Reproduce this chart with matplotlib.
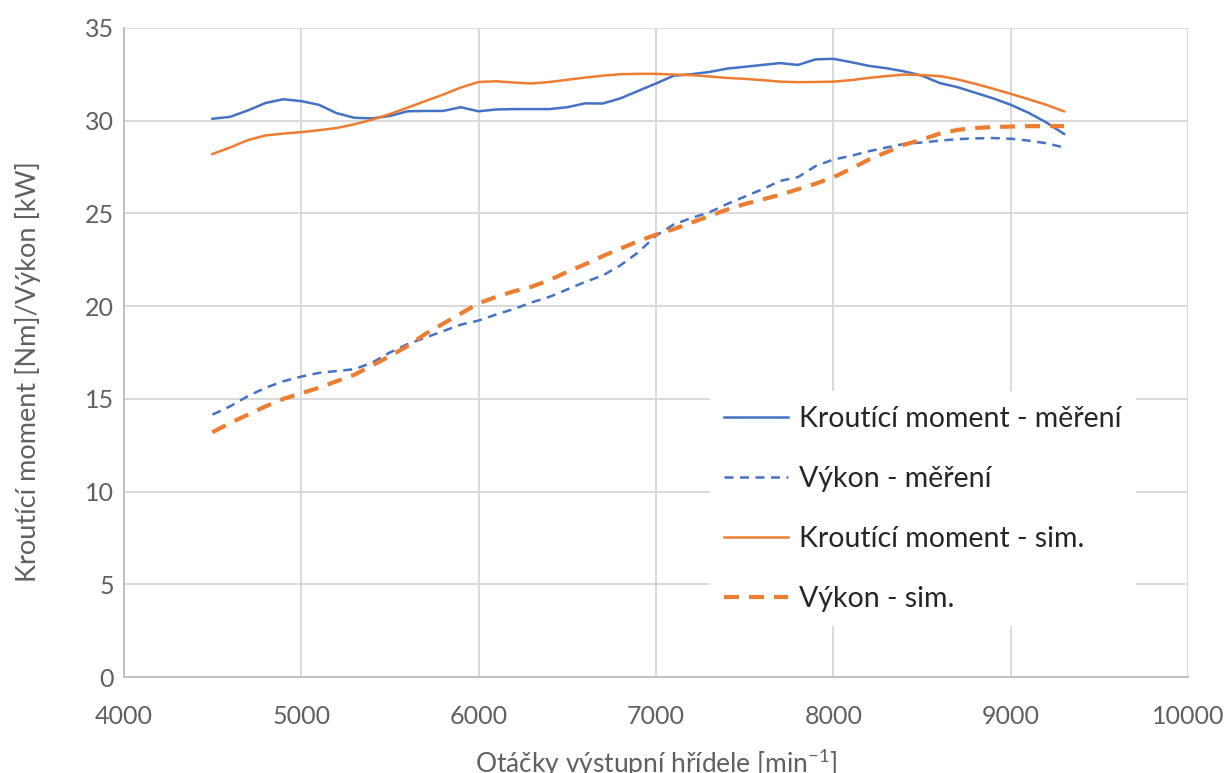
import numpy as np
import matplotlib
matplotlib.use('Agg')
import matplotlib.pyplot as plt

plt.rcParams['font.family'] = ['Lato', 'DejaVu Sans']
plt.rcParams['mathtext.default'] = 'regular'

# otacky [min-1]
rpm = list(range(4500, 9301, 100))

moment_mereni = [30.1, 30.2, 30.55, 30.95, 31.15, 31.05, 30.85, 30.4, 30.15, 30.12,
                 30.25, 30.5, 30.52, 30.52, 30.72, 30.5, 30.6, 30.62, 30.62, 30.62,
                 30.72, 30.93, 30.92, 31.2, 31.6, 32.0, 32.42, 32.5, 32.62, 32.8,
                 32.9, 33.0, 33.1, 33.0, 33.3, 33.33, 33.15, 32.95, 32.82, 32.65,
                 32.42, 32.02, 31.8, 31.5, 31.2, 30.85, 30.42, 29.9, 29.28]

vykon_mereni = [14.15, 14.6, 15.15, 15.6, 15.95, 16.2, 16.4, 16.5, 16.6, 16.95,
                17.5, 17.95, 18.3, 18.65, 19.0, 19.22, 19.55, 19.85, 20.2, 20.5,
                20.9, 21.3, 21.65, 22.2, 22.9, 23.8, 24.4, 24.75, 25.05, 25.5,
                25.9, 26.3, 26.75, 26.95, 27.55, 27.9, 28.1, 28.35, 28.55, 28.75,
                28.82, 28.92, 29.0, 29.04, 29.06, 29.02, 28.92, 28.78, 28.55]

moment_sim = [28.2, 28.55, 28.95, 29.2, 29.3, 29.38, 29.48, 29.6, 29.8, 30.05,
              30.35, 30.7, 31.05, 31.4, 31.78, 32.08, 32.12, 32.05, 32.0, 32.08,
              32.2, 32.32, 32.42, 32.5, 32.52, 32.52, 32.48, 32.45, 32.38, 32.3,
              32.25, 32.18, 32.1, 32.07, 32.08, 32.1, 32.18, 32.3, 32.4, 32.48,
              32.45, 32.4, 32.22, 31.98, 31.72, 31.44, 31.15, 30.85, 30.5]

vykon_sim = [13.2, 13.7, 14.15, 14.6, 15.0, 15.3, 15.6, 15.95, 16.3, 16.8,
             17.3, 17.85, 18.5, 19.05, 19.6, 20.15, 20.5, 20.8, 21.05, 21.4,
             21.85, 22.25, 22.7, 23.1, 23.5, 23.85, 24.15, 24.5, 24.85, 25.2,
             25.5, 25.75, 26.0, 26.3, 26.6, 26.95, 27.4, 27.9, 28.3, 28.7,
             28.98, 29.3, 29.5, 29.6, 29.65, 29.68, 29.7, 29.7, 29.7]

blue = '#4472C4'
orange = '#ED7D31'
gray_text = '#606060'

fig = plt.figure(figsize=(12.25, 7.73), dpi=100)
ax = fig.add_axes([0.101, 0.124, 0.869, 0.840])

ax.plot(rpm, moment_mereni, color=blue, lw=1.8, label='Kroutící moment - měření')
ax.plot(rpm, vykon_mereni, color=blue, lw=1.8, dashes=(3.6, 2.6), label='Výkon - měření')
ax.plot(rpm, moment_sim, color=orange, lw=1.8, label='Kroutící moment - sim.')
ax.plot(rpm, vykon_sim, color=orange, lw=3.0, dashes=(3.6, 2.4), label='Výkon - sim.')

ax.set_xlim(4000, 10000)
ax.set_ylim(0, 35)
ax.set_xticks(np.arange(4000, 10001, 1000))
ax.set_yticks(np.arange(0, 36, 5))
ax.grid(True, color='#d9d9d9', lw=1.4)
ax.set_axisbelow(True)
for side in ['top', 'right']:
    ax.spines[side].set_visible(False)
for side in ['left', 'bottom']:
    ax.spines[side].set_color('#bfbfbf')
    ax.spines[side].set_linewidth(1.4)
ax.tick_params(length=0, labelsize=18, labelcolor=gray_text)
ax.tick_params(axis='y', pad=7)
ax.tick_params(axis='x', pad=20)

ax.set_xlabel('Otáčky výstupní hřídele [min$^{-1}$]', fontsize=19, color=gray_text)
ax.set_ylabel('Kroutící moment [Nm]/Výkon [kW]', fontsize=19.5, color=gray_text)
ax.xaxis.set_label_coords(0.5, -0.108)
ax.yaxis.set_label_coords(-0.078, 0.47)

leg = ax.legend(loc='upper left', bbox_to_anchor=(0.537, 0.462), fontsize=20.5,
                frameon=True, fancybox=False, framealpha=1, edgecolor='none',
                handlelength=2.25, handletextpad=0.4, labelspacing=1.2,
                borderpad=0.5)
for t in leg.get_texts():
    t.set_color('#262626')

fig.savefig('out.png', dpi=100)
